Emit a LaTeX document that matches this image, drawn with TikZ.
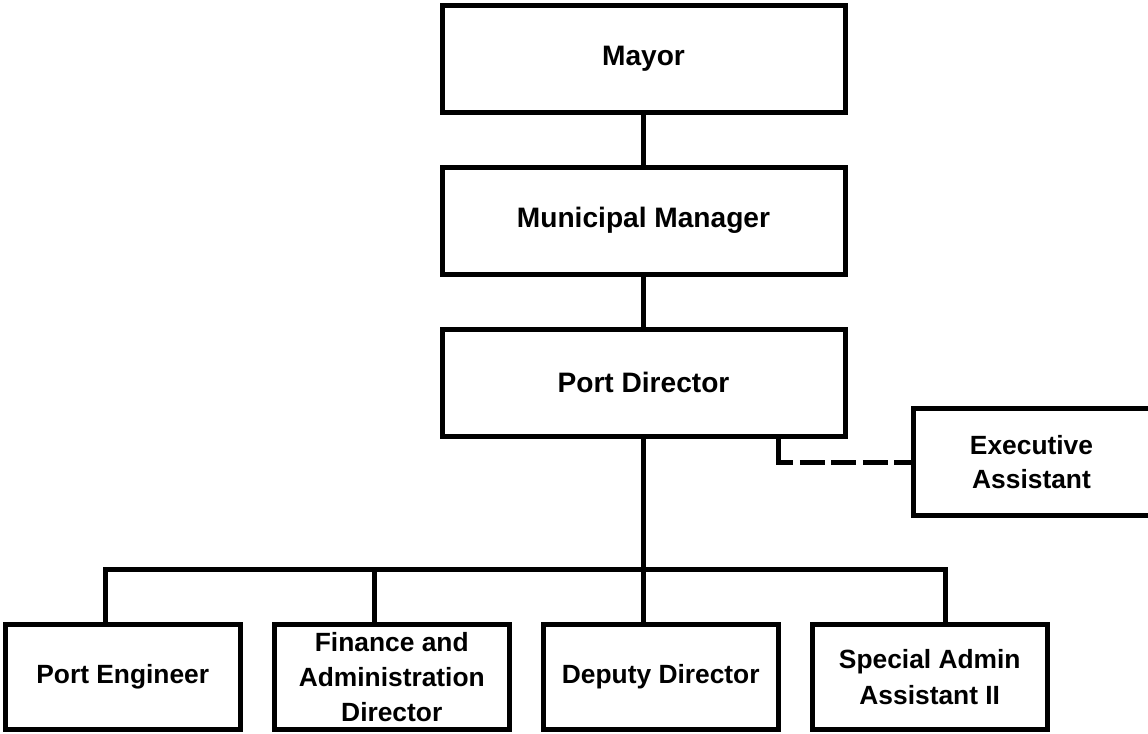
\documentclass[tikz,border=0pt]{standalone}
\usepackage{fontspec}
\setmainfont{Liberation Sans}
\usetikzlibrary{positioning}

\begin{document}
\begin{tikzpicture}[
            box/.style = {draw, line width=0.1cm, outer sep=0pt, align=center,
                minimum width=8.06cm, minimum height=2.14cm,
                font=\bfseries\fontsize{16}{20}\selectfont}, % top boxes
            staff/.style = {box, minimum width=4.7cm, minimum height=2.1cm,
                font=\bfseries\fontsize{15}{20}\selectfont}, % lower boxes
            link/.style = {line width=0.1cm},
            advisory/.style = {link, dash pattern=on 0.82cm off 0.13cm on 0.5cm off 0.13cm
                on 0.5cm off 0.13cm on 0.5cm off 0.13cm on 0.5cm off 0.13cm},
            node distance = 1.1cm % distance between boxes
        ]
	\useasboundingbox (0,0) rectangle (22.96,-14.66);

	\node[box] (mayor) at (12.87,-1.175) {Mayor};
	\node[box] (mm) [below=of mayor] {Municipal Manager};
	\node[box] (pd) [below=of mm] {Port Director};
	\node[staff, minimum width=4.74cm, minimum height=2.14cm,
	      font=\bfseries\fontsize{15}{19}\selectfont] (ea) at (20.63,-9.24) {Executive\\Assistant};

	\node[staff] (pe) at (2.455,-13.54) {Port Engineer};
	\node[staff] (fa) [right=0.68cm of pe] {Finance and\\Administration\\Director};
	\node[staff] (dd) [right=0.68cm of fa] {Deputy Director};
	\node[staff] (sa) [right=0.68cm of dd] {Special Admin\\Assistant II};

	\coordinate (bus) at ([yshift=1.1cm]dd.north);

	\draw[link] (mayor) -- (mm);
	\draw[link] (mm) -- (pd);
	\draw[link] (pd.south) -- (pd.south |- dd.north);
	\draw[advisory] ([xshift=2.69cm]pd.south) |- (ea.west);

	\draw[link] ([xshift=-0.34cm]pe.north) |- (bus) -| ([xshift=0.32cm]sa.north);
	\draw[link] ([xshift=-0.34cm]fa.north) -- ([xshift=-0.34cm]fa.north |- bus);

\end{tikzpicture}
\end{document}
